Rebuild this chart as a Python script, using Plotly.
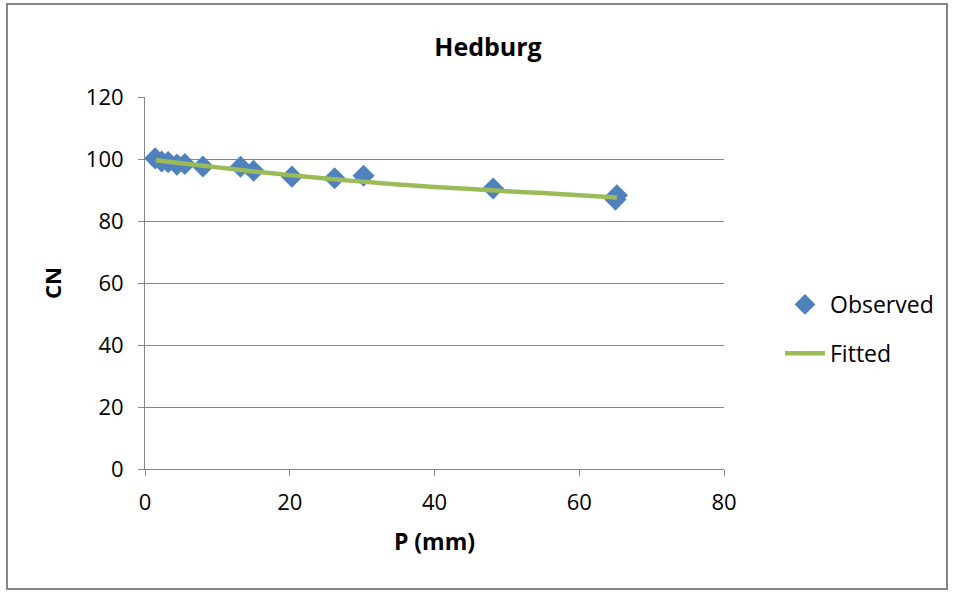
import plotly.graph_objects as go

obs_p = [1.4, 2.3, 3.2, 4.4, 5.5, 8.0, 13.2, 15.0, 20.3, 26.2, 30.2, 48.1, 65.2, 65.0]
obs_cn = [100.2, 99.2, 99.0, 98.2, 98.4, 97.6, 97.5, 96.2, 94.3, 93.8, 94.6, 90.5, 88.3, 86.9]

fit_p = [1.5, 5, 10, 15, 20, 25, 30, 35, 40, 45, 50, 55, 60, 65.2]
fit_cn = [99.6, 98.6, 97.3, 96.0, 94.8, 93.7, 92.7, 91.8, 91.0, 90.3, 89.6, 89.0, 88.3, 87.6]

FONT = "Open Sans, sans-serif"

L, R, T, B = 145, 724, 97, 469
PW, PH = R - L, B - T

fig = go.Figure()
fig.add_trace(go.Scatter(x=obs_p, y=obs_cn, mode="markers", name="Observed", legendgroup="obs",
                         marker=dict(symbol="diamond", size=17, color="#4F81BD")))
fig.add_trace(go.Scatter(x=fit_p, y=fit_cn, mode="lines", name="Fitted", legendgroup="fit",
                         line=dict(color="#9BBB59", width=4.5, shape="spline")))

fig.update_layout(
    width=956, height=595,
    margin=dict(l=L, r=956 - R, t=T, b=595 - B),
    paper_bgcolor="white", plot_bgcolor="white",
    font=dict(family=FONT, size=22, color="#000000"),
    title=dict(text="<b>Hedburg</b>", x=(488 - L) / PW, xref="paper", xanchor="center",
               y=1 - 47 / 595, yanchor="middle", font=dict(size=25)),
    showlegend=True,
    legend=dict(x=(780 - L) / PW, y=(B - 329) / PH, xanchor="left", yanchor="middle",
                font=dict(size=23), tracegroupgap=16, itemwidth=40,
                bgcolor="rgba(0,0,0,0)"),
    xaxis=dict(range=[0, 80], dtick=20, showgrid=False, zeroline=False,
               showline=True, linecolor="#868686", linewidth=1,
               ticks="outside", ticklen=6, tickcolor="#868686", ticklabelstandoff=8,
               title=dict(text="<b>P (mm)</b>", font=dict(size=23), standoff=18)),
    yaxis=dict(range=[0, 120], dtick=20, showgrid=True, gridcolor="#868686", gridwidth=1,
               zeroline=False, showline=True, linecolor="#868686", linewidth=1,
               ticks="outside", ticklen=6, tickcolor="#868686", ticklabelstandoff=10,
               title=dict(text="<b>CN</b>", font=dict(size=22), standoff=18)),
    shapes=[dict(type="rect", xref="paper", yref="paper",
                 x0=(7 - L) / PW, x1=(947 - L) / PW,
                 y0=(B - 589) / PH, y1=(B - 4) / PH,
                 line=dict(color="#868686", width=2), layer="below")],
)

fig.write_html("out.html", config={"displayModeBar": False},
               post_script="document.body.style.margin='0';document.body.style.overflow='hidden';")
